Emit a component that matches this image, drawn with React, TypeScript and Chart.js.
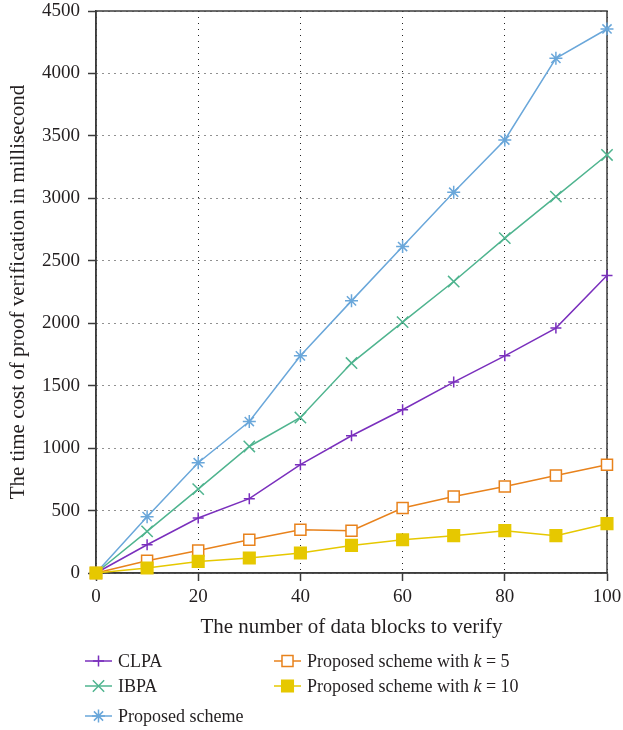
import React, { useEffect, useRef } from 'react';
import { Chart, registerables } from 'chart.js';

Chart.register(...registerables);

const xValues = [0, 10, 20, 30, 40, 50, 60, 70, 80, 90, 100];
const clpa = [0, 226, 440, 595, 867, 1099, 1307, 1529, 1739, 1961, 2382];
const ibpa = [0, 333, 672, 1013, 1245, 1681, 2009, 2334, 2681, 3014, 3347];
const proposed = [0, 451, 883, 1213, 1739, 2179, 2614, 3049, 3467, 4121, 4356];
const proposedK5 = [0, 98, 181, 266, 347, 339, 520, 613, 693, 781, 867];
const proposedK10 = [0, 40, 93, 120, 160, 221, 266, 299, 339, 299, 395];

const xTitle = 'The number of data blocks to verify';
const yTitle = 'The time cost of proof verification in millisecond';

const FONT = '"Liberation Serif", "Times New Roman", serif';
const TEXT = '#231f20';

const colors = {
  clpa: '#7a2fbd',
  ibpa: '#4fb48f',
  proposed: '#6aa7da',
  k5: '#e8821c',
  k10: '#e6c800',
};

type Marker = { style: string; r: number; stroke: string; fill: string };

const markers: Record<string, Marker> = {
  clpa: { style: 'cross', r: 5.5, stroke: colors.clpa, fill: colors.clpa },
  ibpa: { style: 'crossRot', r: 8, stroke: colors.ibpa, fill: colors.ibpa },
  proposed: { style: 'star', r: 6.5, stroke: colors.proposed, fill: colors.proposed },
  k5: { style: 'rect', r: 7.8, stroke: colors.k5, fill: '#ffffff' },
  k10: { style: 'rect', r: 8.2, stroke: colors.k10, fill: colors.k10 },
};

function drawMarker(ctx: CanvasRenderingContext2D, m: Marker, x: number, y: number) {
  ctx.save();
  ctx.strokeStyle = m.stroke;
  ctx.fillStyle = m.fill;
  ctx.lineWidth = 1.5;
  const r = m.r;
  ctx.beginPath();
  if (m.style === 'cross' || m.style === 'star') {
    ctx.moveTo(x - r, y); ctx.lineTo(x + r, y);
    ctx.moveTo(x, y - r); ctx.lineTo(x, y + r);
  }
  if (m.style === 'crossRot' || m.style === 'star') {
    const d = r * Math.SQRT1_2;
    ctx.moveTo(x - d, y - d); ctx.lineTo(x + d, y + d);
    ctx.moveTo(x + d, y - d); ctx.lineTo(x - d, y + d);
  }
  if (m.style === 'rect') {
    const s = r * Math.SQRT1_2;
    ctx.rect(x - s, y - s, 2 * s, 2 * s);
    ctx.fill();
  }
  ctx.stroke();
  ctx.restore();
}

const legendItems = [
  { key: 'clpa', col: 0, y: 661, parts: [['CLPA', false]] },
  { key: 'ibpa', col: 0, y: 686, parts: [['IBPA', false]] },
  { key: 'proposed', col: 0, y: 716, parts: [['Proposed scheme', false]] },
  { key: 'k5', col: 1, y: 661, parts: [['Proposed scheme with ', false], ['k', true], [' = 5', false]] },
  { key: 'k10', col: 1, y: 686, parts: [['Proposed scheme with ', false], ['k', true], [' = 10', false]] },
] as { key: string; col: number; y: number; parts: [string, boolean][] }[];

const legendCols = [
  { x0: 85, x1: 112, text: 118 },
  { x0: 274, x1: 301, text: 307 },
];

const boxPlugin = {
  id: 'boxPlugin',
  beforeDatasetsDraw(chart: any) {
    const { ctx, chartArea } = chart;
    const { left, top, right, bottom } = chartArea;
    ctx.save();
    ctx.strokeStyle = '#3c3c3c';
    ctx.lineWidth = 1.5;
    ctx.strokeRect(left, top, right - left, bottom - top);
    ctx.restore();
  },
};

const legendPlugin = {
  id: 'customLegend',
  afterDraw(chart: any) {
    const ctx: CanvasRenderingContext2D = chart.ctx;
    legendItems.forEach((item) => {
      const col = legendCols[item.col];
      const m = markers[item.key];
      ctx.save();
      ctx.strokeStyle = m.stroke;
      ctx.lineWidth = 1.5;
      ctx.beginPath();
      ctx.moveTo(col.x0, item.y);
      ctx.lineTo(col.x1, item.y);
      ctx.stroke();
      ctx.restore();
      drawMarker(ctx, m, (col.x0 + col.x1) / 2, item.y);
      ctx.save();
      ctx.fillStyle = TEXT;
      ctx.textBaseline = 'alphabetic';
      ctx.textAlign = 'left';
      let x = col.text;
      item.parts.forEach(([t, italic]) => {
        ctx.font = `${italic ? 'italic ' : ''}18px ${FONT}`;
        ctx.fillText(t, x, item.y + 6);
        x += ctx.measureText(t).width;
      });
      ctx.restore();
    });
  },
};

function makeDataset(label: string, key: string, values: number[], order: number) {
  const m = markers[key];
  return {
    label,
    data: xValues.map((x, i) => ({ x, y: values[i] })),
    borderColor: m.stroke,
    backgroundColor: m.fill,
    borderWidth: 1.5,
    pointStyle: m.style,
    pointRadius: m.r,
    pointHoverRadius: m.r,
    pointBorderWidth: 1.5,
    pointBorderColor: m.stroke,
    pointBackgroundColor: m.fill,
    tension: 0,
    clip: false as any,
    order,
  };
}

export default function App() {
  const ref = useRef<HTMLCanvasElement>(null);
  useEffect(() => {
    if (!ref.current) return;
    const chart = new Chart(ref.current, {
      type: 'line',
      data: {
        datasets: [
          makeDataset('CLPA', 'clpa', clpa, 4),
          makeDataset('IBPA', 'ibpa', ibpa, 3),
          makeDataset('Proposed scheme', 'proposed', proposed, 2),
          makeDataset('Proposed scheme with k = 5', 'k5', proposedK5, 1),
          makeDataset('Proposed scheme with k = 10', 'k10', proposedK10, 0),
        ] as any,
      },
      options: {
        responsive: false,
        animation: false,
        devicePixelRatio: 1,
        layout: { padding: { left: 0, right: 16, top: 11, bottom: 87 } },
        plugins: {
          legend: { display: false },
          tooltip: { enabled: false },
        },
        scales: {
          x: {
            type: 'linear',
            min: 0,
            max: 100,
            ticks: {
              stepSize: 20,
              color: TEXT,
              font: { family: FONT, size: 19 },
              padding: 5,
              maxRotation: 0,
              callback: (v: any) => String(v),
            },
            grid: {
              color: '#222',
              lineWidth: 1,
              tickLength: 8,
              tickColor: '#3c3c3c',
              tickWidth: 1.5,
            },
            border: { display: true, color: '#3c3c3c', width: 1.5, dash: [1, 5] },
            title: {
              display: true,
              text: xTitle,
              color: TEXT,
              font: { family: FONT, size: 21 },
              padding: { top: 0, bottom: 3 },
            },
            afterFit: (s: any) => {
              s.height = 70;
              s.paddingLeft = 0;
              s.paddingRight = 0;
            },
          },
          y: {
            type: 'linear',
            min: 0,
            max: 4500,
            ticks: {
              stepSize: 500,
              color: TEXT,
              font: { family: FONT, size: 19 },
              padding: 8,
              callback: (v: any) => String(v),
            },
            grid: {
              color: '#222',
              lineWidth: 1,
              tickLength: 8,
              tickColor: '#3c3c3c',
              tickWidth: 1.5,
            },
            border: { display: true, color: '#3c3c3c', width: 1.5, dash: [1, 5] },
            title: {
              display: true,
              text: yTitle,
              color: TEXT,
              font: { family: FONT, size: 21 },
              padding: { top: 6, bottom: 0 },
            },
            afterFit: (s: any) => {
              s.width = 96;
              s.paddingTop = 0;
              s.paddingBottom = 0;
            },
          },
        },
      } as any,
      plugins: [boxPlugin, legendPlugin],
    });
    return () => chart.destroy();
  }, []);
  return (
    <div style={{ position: 'absolute', left: 0, top: 0, width: 623, height: 730, background: '#fff' }}>
      <canvas ref={ref} width={623} height={730} style={{ display: 'block' }} />
    </div>
  );
}
